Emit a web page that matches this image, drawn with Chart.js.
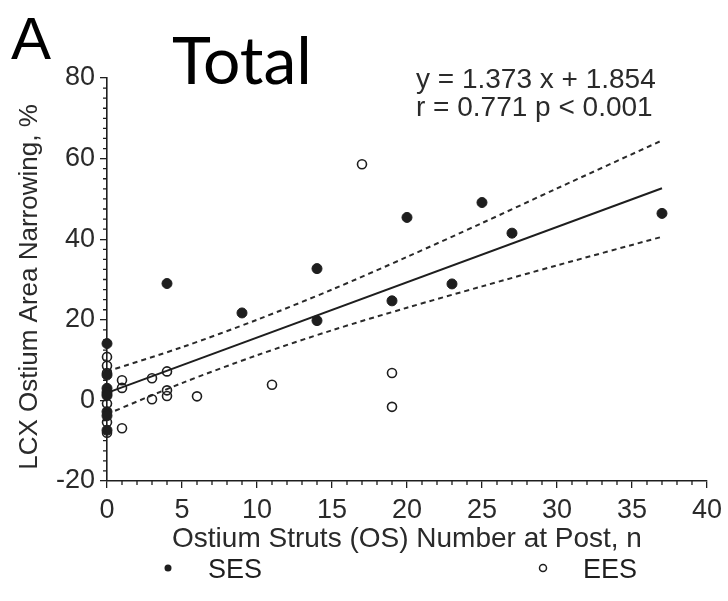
<!DOCTYPE html>
<html>
<head>
<meta charset="utf-8">
<script src="https://cdn.jsdelivr.net/npm/chart.js@4/dist/chart.umd.min.js"></script>
<style>
html,body{margin:0;padding:0;background:#fff;}
#wrap{position:relative;width:728px;height:601px;}
canvas{display:block;}
</style>
</head>
<body>
<div id="wrap"><canvas id="c" width="728" height="601"></canvas></div>
<script>
// ---- data ----
const sesX = [0, 0, 0, 0, 0, 0, 0, 0, 4, 9, 14, 14, 19, 20, 23, 25, 27, 37];
const sesY = [14.1, 6.3, 3.0, 2.0, 1.2, -2.8, -3.8, -7.4, 29.0, 21.7, 32.7, 19.8, 24.7, 45.4, 28.9, 49.1, 41.5, 46.4];
const eesX = [0, 0, 0, 0, 0, 0, 0, 1, 1, 1, 3, 3, 4, 4, 4, 6, 11, 17, 19, 19];
const eesY = [10.8, 8.6, 6.8, 1.5, -0.8, -5.4, -8.0, 5.0, 3.1, -6.9, 5.5, 0.3, 7.2, 2.5, 1.1, 1.0, 3.9, 58.6, 6.8, -1.6];
const fitX = [0, 37];
const fitY = [1.854, 52.655];
const bandX = [0, 5, 10, 15, 20, 25, 30, 37];
const upperY = [7.2, 13.2, 20.0, 27.5, 35.6, 44.0, 52.6, 64.5];
const lowerY = [-3.4, 4.3, 11.2, 17.4, 23.0, 28.3, 33.5, 40.6];
const xTicks = [0, 5, 10, 15, 20, 25, 30, 35, 40];
const yTicks = [-20, 0, 20, 40, 60, 80];
const seriesNames = ['SES', 'EES'];
const panelLetter = 'A';
const panelTitle = 'Total';
const eqLines = ['y = 1.373 x + 1.854', 'r = 0.771 p < 0.001'];
const xTitle = 'Ostium Struts (OS) Number at Post, n';
const yTitle = 'LCX Ostium Area Narrowing, %';

const pts = (xs, ys) => xs.map((x, i) => ({x: x, y: ys[i]}));
const INK = '#1e1e1e';
const TXT = '#2a2a2a';
const FONT = '"Liberation Sans", Arial, sans-serif';

const extras = {
  id: 'extras',
  afterDraw(chart) {
    const ctx = chart.ctx;
    const xs = chart.scales.x, ys = chart.scales.y;
    ctx.save();
    // minor ticks
    ctx.strokeStyle = INK;
    ctx.lineWidth = 1.3;
    ctx.beginPath();
    for (let v = xs.min; v <= xs.max; v += 1) {
      if (v % 5 === 0) continue;
      const px = xs.getPixelForValue(v);
      ctx.moveTo(px, ys.bottom);
      ctx.lineTo(px, ys.bottom + 4);
    }
    for (let v = ys.min; v <= ys.max; v += 2.5) {
      if (Math.abs(v % 20) < 1e-6) continue;
      const py = ys.getPixelForValue(v);
      ctx.moveTo(xs.left, py);
      ctx.lineTo(xs.left - 4, py);
    }
    ctx.stroke();

    // y axis title
    ctx.save();
    ctx.translate(30, 287);
    ctx.rotate(-Math.PI / 2);
    ctx.fillStyle = TXT;
    ctx.font = '26px ' + FONT;
    ctx.textAlign = 'center';
    ctx.textBaseline = 'middle';
    ctx.fillText(yTitle, 0, 0);
    ctx.restore();

    // panel letter and title
    ctx.fillStyle = '#000';
    ctx.textBaseline = 'alphabetic';
    ctx.textAlign = 'left';
    ctx.font = '60px ' + FONT;
    ctx.fillText(panelLetter, 11, 59);
    ctx.font = '66px Lato, "Open Sans", sans-serif';
    ctx.fillText(panelTitle, 172, 84);

    // equation
    ctx.fillStyle = TXT;
    ctx.font = '28px ' + FONT;
    ctx.fillText(eqLines[0], 416, 88);
    ctx.fillText(eqLines[1], 416, 116);

    // legend
    ctx.font = '27px ' + FONT;
    ctx.fillStyle = INK;
    ctx.beginPath();
    ctx.arc(168, 568, 3.5, 0, Math.PI * 2);
    ctx.fill();
    ctx.fillText(seriesNames[0], 208, 578);
    ctx.beginPath();
    ctx.lineWidth = 1.5;
    ctx.arc(543, 568, 3.5, 0, Math.PI * 2);
    ctx.stroke();
    ctx.fillText(seriesNames[1], 583, 578);
    ctx.restore();
  }
};

new Chart(document.getElementById('c'), {
  type: 'scatter',
  data: {
    datasets: [
      {label: 'upper', data: pts(bandX, upperY), showLine: true, borderColor: TXT, borderWidth: 2,
       borderDash: [5, 4], pointRadius: 0, fill: false, tension: 0.3, clip: false, order: 3},
      {label: 'lower', data: pts(bandX, lowerY), showLine: true, borderColor: TXT, borderWidth: 2,
       borderDash: [5, 4], pointRadius: 0, fill: false, tension: 0.3, clip: false, order: 3},
      {label: 'fit', data: pts(fitX, fitY), showLine: true, borderColor: INK, borderWidth: 2,
       pointRadius: 0, fill: false, clip: false, order: 2},
      {label: seriesNames[0], data: pts(sesX, sesY), pointRadius: 5, pointBackgroundColor: INK,
       pointBorderColor: INK, pointBorderWidth: 1, clip: false, order: 1},
      {label: seriesNames[1], data: pts(eesX, eesY), pointRadius: 4.5, pointBackgroundColor: 'rgba(255,255,255,0)',
       pointBorderColor: INK, pointBorderWidth: 1.6, clip: false, order: 1}
    ]
  },
  options: {
    responsive: false,
    animation: false,
    events: [],
    layout: {padding: {left: 0, top: 78, right: 17, bottom: 41}},
    plugins: {legend: {display: false}, tooltip: {enabled: false}, title: {display: false}},
    scales: {
      x: {
        type: 'linear', min: 0, max: 40,
        afterFit: s => { s.height = 79; },
        afterBuildTicks: s => { s.ticks = xTicks.map(v => ({value: v})); },
        grid: {drawOnChartArea: false, drawTicks: true, tickLength: 7, color: INK, lineWidth: 1.3},
        border: {display: true, color: INK, width: 1.6},
        ticks: {color: TXT, font: {family: FONT, size: 27}, padding: 6, maxRotation: 0},
        title: {display: true, text: xTitle, color: TXT, font: {family: FONT, size: 28}, padding: {top: 2, bottom: 4}}
      },
      y: {
        type: 'linear', min: -20, max: 80,
        afterFit: s => { s.width = 107; },
        afterBuildTicks: s => { s.ticks = yTicks.map(v => ({value: v})); },
        grid: {drawOnChartArea: false, drawTicks: true, tickLength: 7, color: INK, lineWidth: 1.3},
        border: {display: true, color: INK, width: 1.6},
        ticks: {color: TXT, font: {family: FONT, size: 27}, padding: 5},
        title: {display: false}
      }
    }
  },
  plugins: [extras]
});
</script>
</body>
</html>
